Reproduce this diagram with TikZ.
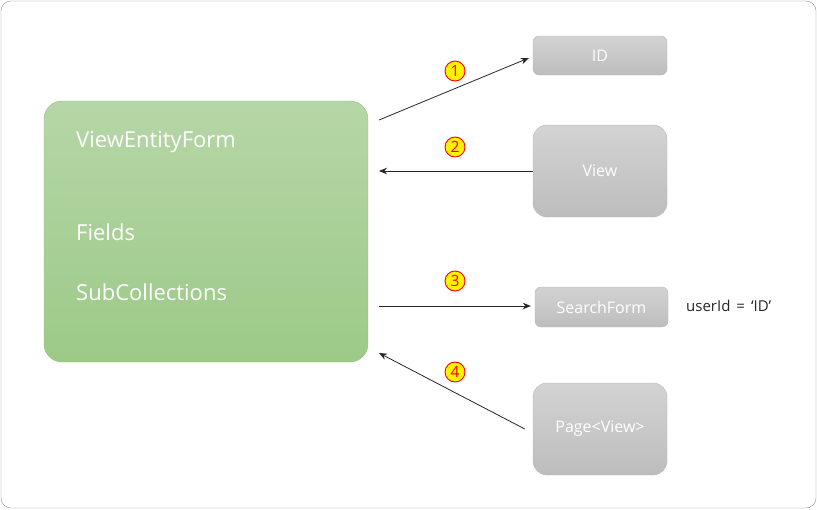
\documentclass[tikz,border=0pt]{standalone}
\usepackage{fontspec}
\setmainfont{Open Sans}
\usetikzlibrary{arrows.meta}
\definecolor{formtop}{HTML}{B6D6A7}
\definecolor{formbot}{HTML}{9CCA87}
\definecolor{formline}{HTML}{90C07A}
\definecolor{boxtop}{HTML}{D3D3D3}
\definecolor{boxbot}{HTML}{BDBDBD}
\definecolor{boxline}{HTML}{B8B8B8}
\tikzset{
	graybox/.style={rounded corners=7pt, top color=boxtop, bottom color=boxbot, draw=boxline,
		text=white, font=\fontsize{16}{19}\selectfont, minimum width=134pt, inner sep=0pt},
	formtext/.style={anchor=base west, text=white, font=\fontsize{22}{26}\selectfont, inner sep=0pt},
	stepnum/.style={circle, draw=red, line width=0.9pt, fill=yellow, text=red, inner sep=0pt,
		minimum size=20pt, font=\fontsize{15.5}{16}\selectfont},
	flow/.style={-{Stealth[length=8pt,width=6.5pt]}, line width=0.8pt, black!85}
}
\begin{document}
\begin{tikzpicture}[x=1pt, y=-1pt]
		\useasboundingbox (0,0) rectangle (817,509);
		\draw[rounded corners=10pt, draw=black!45] (1,1) rectangle (816,508);
		% the form
		\node[rounded corners=18pt, top color=formtop, bottom color=formbot, draw=formline,
			minimum width=324pt, minimum height=261pt] (form) at (206,231.5) {};
		\node[formtext] (title) at (76,147.5) {ViewEntityForm};
		\node[formtext] (fields) at (76,240) {Fields};
		\node[formtext] (subs) at (76,300) {SubCollections};
		% the boxes on the right
		\node[graybox, minimum height=39pt, rounded corners=6pt] (id) at (600,55.5) {ID};
		\node[graybox, minimum height=92pt, rounded corners=14pt] (view) at (600,171) {View};
		\node[graybox, minimum height=40pt, minimum width=133pt, rounded corners=6pt] (search) at (601.5,307) {SearchForm};
		\node[graybox, minimum height=92pt, rounded corners=14pt] (page) at (600,429) {Page<View>};
		\node[anchor=west, text=black!85, font=\fontsize{15}{17}\selectfont, inner sep=0pt] (cond)
			at (686,306) {userId\hspace{6pt}=\hspace{6pt}‘ID’};
		% the arrows
		\coordinate (s1) at (379,120);
		\coordinate (t2) at (379,171);
		\coordinate (s3) at (379,306);
		\coordinate (t4) at (379,353);
		\draw[flow] (s1) -- ([xshift=-4pt, yshift=-2.5pt]id.west);
		\draw[flow] (view.west) -- (t2);
		\draw[flow] (s3) -- ([xshift=-4pt, yshift=1pt]search.west);
		\draw[flow] ([xshift=-8pt]page.west) -- (t4);
		\node[stepnum] (n1) at (455,71) {1};
		\node[stepnum] (n2) at (455,147) {2};
		\node[stepnum] (n3) at (455,281) {3};
		\node[stepnum] (n4) at (455,372) {4};
	\end{tikzpicture}
\end{document}
